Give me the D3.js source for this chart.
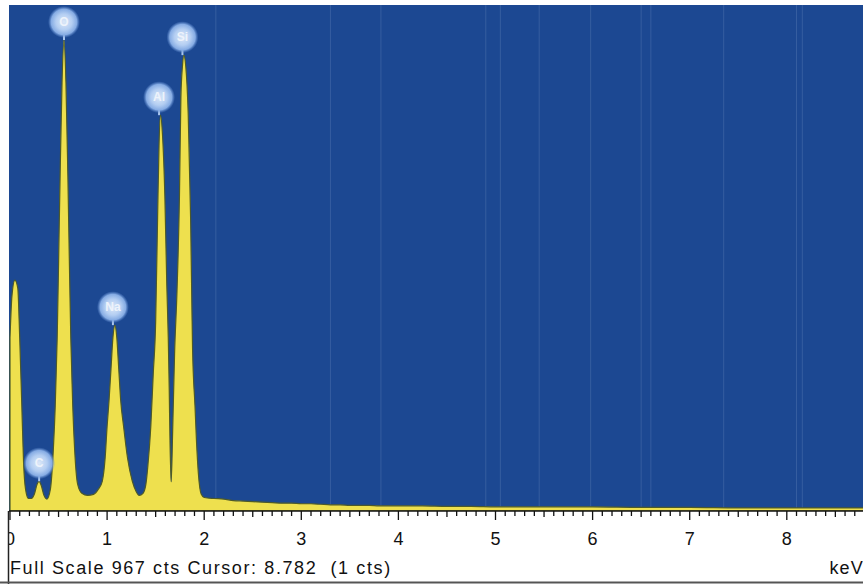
<!DOCTYPE html>
<html>
<head>
<meta charset="utf-8">
<script src="https://cdn.jsdelivr.net/npm/d3@7"></script>
<style>
  body { margin: 0; background: #fff; }
  svg { display: block; }
  text { white-space: pre; }
</style>
</head>
<body>
<svg id="chart"></svg>
<script>
// spectrum (keV, counts)
const energies = [
  0.00, 0.02, 0.05, 0.08, 0.10, 0.12, 0.14, 0.16, 0.19,
  0.22, 0.25, 0.28, 0.30, 0.32, 0.35, 0.38,
  0.416, 0.446, 0.466, 0.486, 0.501, 0.516, 0.536, 0.556, 0.576, 0.596, 0.611, 0.626, 0.646, 0.666, 0.696, 0.74, 0.80,
  0.86, 0.91, 0.95, 0.98, 1.00, 1.02, 1.04, 1.06, 1.08, 1.10, 1.12, 1.14, 1.17, 1.21, 1.26, 1.30,
  1.33, 1.37, 1.40, 1.42, 1.45, 1.475, 1.50, 1.52, 1.535, 1.55, 1.57, 1.595, 1.615, 1.63, 1.64, 1.648,
  1.66, 1.675, 1.695, 1.72, 1.745, 1.76, 1.776, 1.79, 1.81, 1.835, 1.86, 1.88, 1.905, 1.92, 1.94, 1.97,
  2.00, 2.10, 2.20, 2.30, 2.40, 2.50, 2.60, 2.70, 2.80, 2.90, 3.00, 3.10, 3.20, 3.30, 3.40, 3.50,
  3.60, 3.70, 3.80, 3.90, 4.00, 4.25, 4.50, 4.75, 5.00, 5.50, 6.00, 6.50, 7.00, 7.50, 8.00, 8.50, 8.80
];
const counts = [
  330, 410, 440, 425, 330, 210, 90, 40, 22,
  22, 30, 50, 55, 48, 28, 21,
  40, 115, 200, 330, 480, 640, 820, 900, 820, 640, 480, 330, 200, 115, 50, 32, 28,
  30, 40, 55, 100, 160, 210, 270, 330, 354, 330, 270, 210, 160, 100, 55, 35, 28,
  32, 50, 85, 160, 260, 360, 560, 700, 756, 720, 600, 430, 330, 230, 130, 54,
  150, 300, 420, 600, 790, 850, 871, 850, 760, 560, 310, 200, 134, 70, 30, 24,
  22, 21, 18, 17, 16, 15, 14, 13, 13, 12, 12, 11, 10, 10, 9, 9,
  9, 8, 8, 8, 8, 7, 7, 6, 6, 6, 5, 5, 4, 4, 4, 4, 3
];

// element markers
const peakLabels = ["C", "O", "Na", "Al", "Si"];
const peakEnergies = [0.30, 0.556, 1.06, 1.535, 1.776];
const peakCounts = [55, 900, 354, 756, 871];

// faint vertical streaks in the scanned background (keV)
const streaks = [2.12, 3.3, 3.82, 4.9, 5.05, 5.45, 5.98, 6.5, 6.6, 7.35, 8.1, 8.16];

const fullScale = 967;
const xMax = 8.82;
const majorTicks = [0, 1, 2, 3, 4, 5, 6, 7, 8];
const footerText = "Full Scale 967 cts Cursor: 8.782  (1 cts)";
const unitText = "keV";

const W = 863, H = 584;
const plot = { left: 9, top: 5, right: 863, bottom: 511 };

const svg = d3.select("#chart").attr("width", W).attr("height", H);

const x = d3.scaleLinear().domain([0, xMax]).range([10, 10 + xMax * 97.1]);
const y = d3.scaleLinear().domain([0, fullScale]).range([plot.bottom - 1, plot.top]);

const defs = svg.append("defs");
defs.append("clipPath").attr("id", "plotClip")
  .append("rect")
  .attr("x", plot.left).attr("y", plot.top)
  .attr("width", plot.right - plot.left).attr("height", plot.bottom - plot.top);
defs.append("clipPath").attr("id", "axisClip")
  .append("rect")
  .attr("x", plot.left).attr("y", plot.bottom - 2)
  .attr("width", W - plot.left).attr("height", 50);

const glow = defs.append("radialGradient").attr("id", "glow");
glow.append("stop").attr("offset", "0%").attr("stop-color", "#dce8f8");
glow.append("stop").attr("offset", "50%").attr("stop-color", "#b4cef2");
glow.append("stop").attr("offset", "80%").attr("stop-color", "#86ace4");
glow.append("stop").attr("offset", "100%").attr("stop-color", "#5f8bd0").attr("stop-opacity", 0);

// blue plot background
svg.append("rect")
  .attr("x", plot.left).attr("y", plot.top)
  .attr("width", plot.right - plot.left).attr("height", plot.bottom - plot.top)
  .attr("fill", "#1c4892");

svg.append("g").selectAll("line")
  .data(streaks)
  .join("line")
  .attr("x1", d => x(d)).attr("x2", d => x(d))
  .attr("y1", plot.top).attr("y2", plot.bottom)
  .attr("stroke", "#c8d8f0").attr("stroke-opacity", 0.15).attr("stroke-width", 1);

const spectrum = energies.map((e, i) => [e, counts[i]]);

const area = d3.area()
  .x(d => x(d[0]))
  .y0(plot.bottom)
  .y1(d => y(d[1]))
  .curve(d3.curveMonotoneX);

const g = svg.append("g").attr("clip-path", "url(#plotClip)");
g.append("path")
  .datum(spectrum)
  .attr("d", area)
  .attr("fill", "#eee04e")
  .attr("stroke", "#4d5a2a")
  .attr("stroke-width", 1.2);

// peak markers
const markers = svg.append("g");
peakLabels.forEach((lab, i) => {
  const px = x(peakEnergies[i]);
  const py = y(peakCounts[i]);
  const cy = py - 18;
  markers.append("line")
    .attr("x1", px).attr("x2", px)
    .attr("y1", cy + 10).attr("y2", py)
    .attr("stroke", "#a9c6ee").attr("stroke-width", 2);
  markers.append("circle")
    .attr("cx", px).attr("cy", cy).attr("r", 16)
    .attr("fill", "url(#glow)");
  markers.append("text")
    .attr("x", px).attr("y", cy + 4)
    .attr("text-anchor", "middle")
    .attr("font-family", "Liberation Sans, Arial, sans-serif")
    .attr("font-size", 12)
    .attr("font-weight", "bold")
    .attr("fill", "#eef3fb")
    .text(lab);
});

// axis
const axisG = svg.append("g").attr("clip-path", "url(#axisClip)");
axisG.append("line")
  .attr("x1", plot.left).attr("x2", plot.right)
  .attr("y1", plot.bottom).attr("y2", plot.bottom)
  .attr("stroke", "#111").attr("stroke-width", 1.5);

const minor = d3.range(0, 88).map(k => k / 10);
axisG.selectAll("line.tick")
  .data(minor)
  .join("line")
  .attr("class", "tick")
  .attr("x1", d => x(d)).attr("x2", d => x(d))
  .attr("y1", plot.bottom)
  .attr("y2", (d, i) => plot.bottom + (i % 10 === 0 ? 9 : (i % 5 === 0 ? 6 : 5)))
  .attr("stroke", "#111").attr("stroke-width", 1.3);

axisG.selectAll("text.lab")
  .data(majorTicks)
  .join("text")
  .attr("class", "lab")
  .attr("x", d => x(d)).attr("y", 545)
  .attr("text-anchor", "middle")
  .attr("font-family", "Liberation Sans, Arial, sans-serif")
  .attr("font-size", 18)
  .attr("fill", "#111")
  .text(d => d);

// frame lines
svg.append("line")
  .attr("x1", 8.5).attr("x2", 8.5).attr("y1", plot.bottom).attr("y2", H)
  .attr("stroke", "#222").attr("stroke-width", 1.5);
svg.append("line")
  .attr("x1", 0).attr("x2", W).attr("y1", H - 1.5).attr("y2", H - 1.5)
  .attr("stroke", "#555").attr("stroke-width", 2);

svg.append("text")
  .attr("x", 10).attr("y", 574)
  .attr("font-family", "Liberation Sans, Arial, sans-serif")
  .attr("font-size", 18)
  .attr("letter-spacing", 1.6)
  .attr("fill", "#111")
  .text(footerText);

svg.append("text")
  .attr("x", W + 1).attr("y", 574)
  .attr("text-anchor", "end")
  .attr("font-family", "Liberation Sans, Arial, sans-serif")
  .attr("font-size", 18)
  .attr("letter-spacing", 1.2)
  .attr("fill", "#111")
  .text(unitText);
</script>
</body>
</html>
